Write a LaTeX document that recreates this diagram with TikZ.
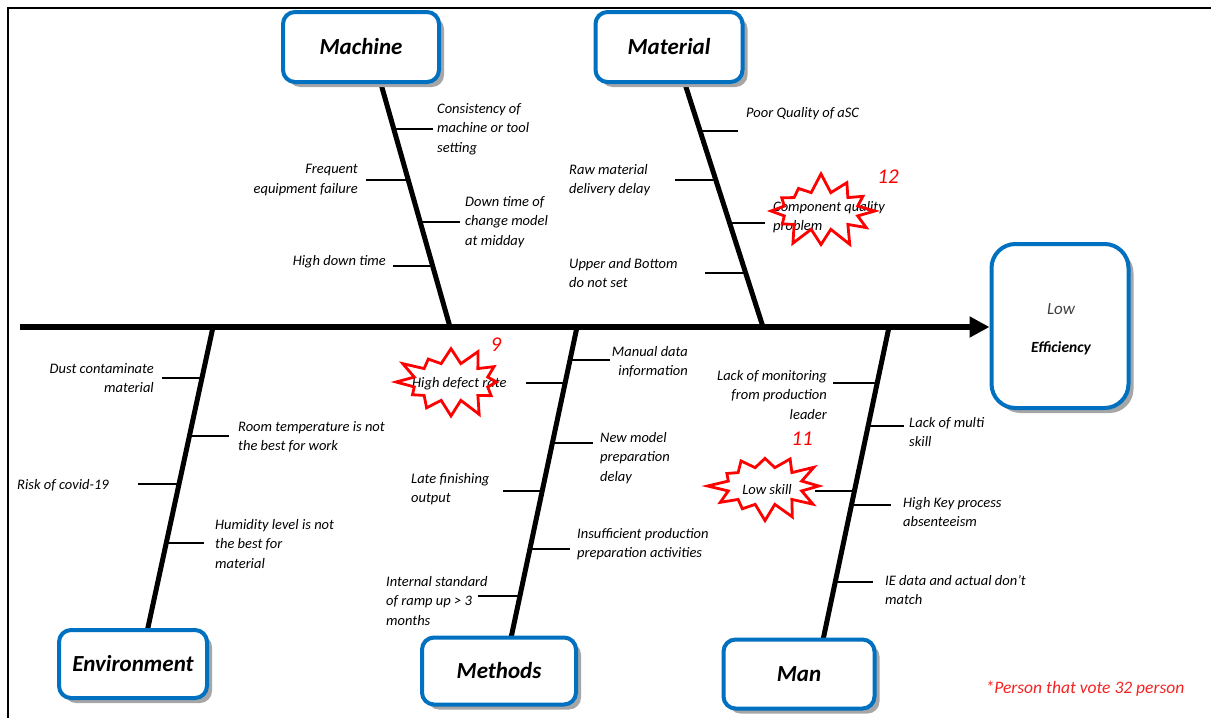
\documentclass[tikz,border=0pt]{standalone}
\usepackage{fontspec}
\setmainfont{Carlito}
\usetikzlibrary{shapes.symbols,shadows,arrows.meta}
\definecolor{boxblue}{RGB}{0,112,192}
\definecolor{burst}{RGB}{255,0,0}
\definecolor{note}{RGB}{245,35,35}
\begin{document}
\begin{tikzpicture}[x=1pt,y=-1pt,
 catbox/.style={draw=boxblue,line width=4pt,rounded corners=12pt,fill=white,inner sep=0pt,
   font=\fontsize{23}{26}\selectfont\bfseries\itshape,
   drop shadow={shadow xshift=5pt,shadow yshift=-5pt,fill=black!35,opacity=1}},
 bone/.style={line width=5pt},
 rib/.style={line width=2pt},
 lbl/.style={font=\fontsize{14.5}{19.5}\selectfont\itshape,inner sep=0pt,text=black},
 lbll/.style={lbl,anchor=west,align=left},
 lblr/.style={lbl,anchor=east,align=right},
 burstshape/.style={starburst,draw=burst,line width=2.8pt,starburst points=12,
   starburst point height=20pt,minimum width=116pt,minimum height=78pt,inner sep=0pt},
 vote/.style={font=\fontsize{21}{24}\selectfont\itshape,text=burst,inner sep=0pt}
]
\useasboundingbox (0,0) rectangle (1211,718);
% frame
\draw[line width=1.5pt] (8,718) -- (8,8) -- (1211,8);

% effect box
\node[catbox,rounded corners=24pt,minimum width=137pt,minimum height=164pt] (eff) at (1060,326) {};
\node[lbl,font=\fontsize{17}{20}\selectfont\itshape,text=black!75] (low) at (1061,309) {Low};
\node[lbl,font=\fontsize{15.5}{18}\selectfont\bfseries\itshape,text=black] (effic) at (1061,348) {Efficiency};

% spine
\coordinate (spineL) at (20,327);
\draw[line width=6pt,-{Triangle[length=20pt,width=20pt]}] (spineL) -- (eff.west |- spineL);

% bones
\coordinate (mt) at (381,84); \coordinate (mb) at (450,327);
\coordinate (tt) at (685,84); \coordinate (tb) at (763,327);
\coordinate (et) at (213,327); \coordinate (eb) at (147,632);
\coordinate (dt) at (577,327); \coordinate (db) at (511,638);
\coordinate (nt) at (889,327); \coordinate (nb) at (823,640);
\draw[bone] (mt) -- (mb);
\draw[bone] (tt) -- (tb);
\draw[bone] (et) -- (eb);
\draw[bone] (dt) -- (db);
\draw[bone] (nt) -- (nb);

% category boxes
\node[catbox,minimum width=156pt,minimum height=70pt] (machine) at (361,47) {Machine};
\node[catbox,minimum width=147pt,minimum height=70pt] (material) at (669,47) {Material};
\node[catbox,minimum width=148pt,minimum height=68pt] (env) at (133,664) {Environment};
\node[catbox,minimum width=154pt,minimum height=67pt] (methods) at (499,671) {Methods};
\node[catbox,minimum width=151pt,minimum height=69pt] (man) at (799,674) {Man};

% Machine ribs and labels
\draw[rib] (392,129) -- (433,129);
\draw[rib] (366,180) -- (407,180);
\draw[rib] (419,222) -- (460,222);
\draw[rib] (393,266) -- (432,266);
\node[lbll] (m1) at (437,129) {Consistency of\\machine or tool\\setting};
\node[lblr] (m2) at (358,180) {Frequent\\equipment failure};
\node[lbll] (m3) at (465,222) {Down time of\\change model\\at midday};
\node[lblr] (m4) at (386,262) {High down time};

% Material ribs and labels
\draw[rib] (698,131) -- (738,131);
\draw[rib] (675,180) -- (714,180);
\draw[rib] (729,223) -- (765,223);
\draw[rib] (705,273) -- (745,273);
\node[lbll] (t1) at (746,114) {Poor Quality of aSC};
\node[lbll] (t2) at (569,180) {Raw material\\delivery delay};
\node[lbll] (t3) at (773,217) {Component quality\\problem};
\node[lbll] (t4) at (569,273) {Upper and Bottom\\do not set};

% Environment ribs and labels
\draw[rib] (162,378) -- (202,378);
\draw[rib] (190,436) -- (229,436);
\draw[rib] (138,484) -- (179,484);
\draw[rib] (166,543) -- (204,543);
\node[lblr] (e1) at (154,378) {Dust contaminate\\material};
\node[lbll] (e2) at (238,437) {Room temperature is not\\the best for work};
\node[lbll] (e3) at (17,485) {Risk of covid-19};
\node[lbll] (e4) at (215,544) {Humidity level is not\\the best for\\material};

% Methods ribs and labels
\draw[rib] (571,360) -- (610,360);
\draw[rib] (526,383) -- (566,383);
\draw[rib] (553,443) -- (593,443);
\draw[rib] (503,491) -- (543,491);
\draw[rib] (530,549) -- (570,549);
\draw[rib] (478,596) -- (520,596);
\node[lblr] (d1) at (688,362) {Manual data\\information};
\node[lbll] (d2) at (412,384) {High defect rate};
\node[lbll] (d3) at (600,458) {New model\\preparation\\delay};
\node[lbll] (d4) at (411,489) {Late finishing\\output};
\node[lbll] (d5) at (577,544) {Insufficient production\\preparation activities};
\node[lbll] (d6) at (386,601) {Internal standard\\of ramp up > 3\\months};

% Man ribs and labels
\draw[rib] (833,383) -- (877,383);
\draw[rib] (868,426) -- (904,426);
\draw[rib] (815,491) -- (854,491);
\draw[rib] (851,505) -- (891,505);
\draw[rib] (835,582) -- (873,582);
\node[lblr] (n1) at (827,395) {Lack of monitoring\\from production\\leader};
\node[lbll] (n2) at (909,432) {Lack of multi\\skill};
\node[lbl] (n3) at (767,490) {Low skill};
\node[lbll] (n4) at (903,512) {High Key process\\absenteeism};
\node[lbll] (n5) at (885,590) {IE data and actual don’t\\match};

% starbursts and votes
\node[burstshape,random starburst=7] (b1) at (821,211) {};
\node[burstshape,random starburst=21] (b2) at (451,382) {};
\node[burstshape,random starburst=42] (b3) at (765,486) {};
\node[vote] (v1) at (888,177) {12};
\node[vote] (v2) at (496,345) {9};
\node[vote] (v3) at (802,439) {11};

% footnote
\node[lbl,font=\fontsize{17.5}{20}\selectfont\itshape,text=note] (foot) at (1085,689) {*Person that vote 32 person};
\end{tikzpicture}
\end{document}
